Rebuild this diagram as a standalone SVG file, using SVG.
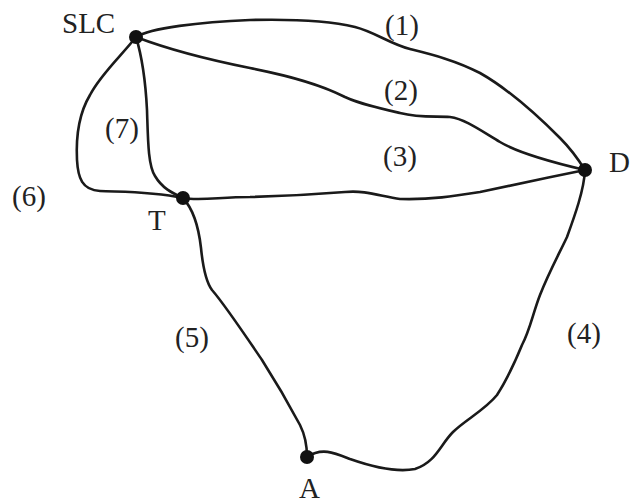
<svg xmlns="http://www.w3.org/2000/svg" width="631" height="504" viewBox="0 0 631 504">
<style>
.e{fill:none;stroke:#1a1a1a;stroke-width:2.6;stroke-linecap:round;stroke-linejoin:round}
.n{fill:#111}
text{font-family:"Liberation Serif","Times New Roman",serif;font-size:29px;fill:#222}
</style>
<rect width="631" height="504" fill="#fff"/>
<g id="connectors">
<path id="e1" class="e" d="M136,37 C150,28 200,22 250,20 C290,19 330,21 355,27 C375,32 390,44 410,49 C430,54 455,60 480,73 C510,90 540,118 560,138 C572,150 580,162 585,170"/>
<path id="e2" class="e" d="M136,37 C170,50 210,60 250,68 C290,76 320,84 345,97 C360,104 378,108 400,113 C420,118 435,116 450,117 C465,119 480,130 500,142 C520,154 555,163 585,170"/>
<path id="e3" class="e" d="M183,198 C200,201 220,197 250,197 C290,196 320,194 345,192 C365,190 380,196 400,199 C430,200 455,196 480,192 C510,186 550,177 585,170"/>
<path id="e4" class="e" d="M585,170 C584,190 575,215 567,237 C560,252 549,272 540,295 C533,313 530,330 522,345 C515,362 508,378 497,395 C485,410 465,420 453,432 C440,445 436,462 415,469 C395,473 370,466 350,459 C335,453 322,447 307,457"/>
<path id="e5" class="e" d="M183,198 C194,210 199,230 201,248 C203,268 206,282 212,290 C225,305 245,335 262,360 C278,385 292,410 300,425 C305,435 307,445 307,457"/>
<path id="e6" class="e" d="M136,37 C122,55 100,75 90,95 C78,115 76,140 77,160 C78,178 82,190 100,191 C120,192 150,191 183,198"/>
<path id="e7" class="e" d="M136,37 C143,60 146,90 147,110 C148,140 148,165 155,176 C162,188 172,193 183,198"/>
</g>
<g id="SLC"><circle class="n" cx="136" cy="37" r="7"/><text x="62" y="33">SLC</text></g>
<g id="D"><circle class="n" cx="585" cy="170" r="7"/><text x="609" y="172">D</text></g>
<g id="T"><circle class="n" cx="183" cy="198" r="7"/><text x="148" y="230">T</text></g>
<g id="A"><circle class="n" cx="307" cy="457" r="7"/><text x="299" y="498">A</text></g>
<g id="labels">
<text x="385" y="35">(1)</text>
<text x="384" y="100">(2)</text>
<text x="383" y="166">(3)</text>
<text x="567" y="343">(4)</text>
<text x="175" y="347">(5)</text>
<text x="12" y="206">(6)</text>
<text x="105" y="138">(7)</text>
</g>
</svg>
